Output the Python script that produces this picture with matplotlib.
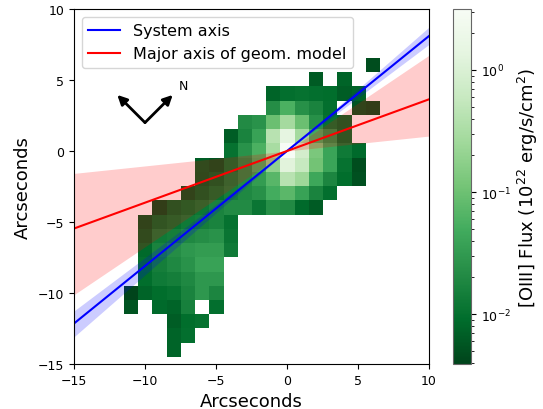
import numpy as np
import matplotlib
matplotlib.use("Agg")
import matplotlib.pyplot as plt
from matplotlib.colors import LogNorm
from matplotlib.ticker import LogLocator

# [OIII] flux map on a 1" grid, in 1e22 erg/s/cm^2.
# each row: y -> (x of first pixel, fluxes along +x), None = no data
x_cells = np.arange(-11, 7)
y_cells = np.arange(6, -15, -1)
flux_rows = {
    6: (6, [0.0048]),
    5: (2, [0.0063, None, 0.0076]),
    4: (-1, [0.0076, 0.0100, 0.0107, 0.0100, 0.0093, 0.0067, 0.0076]),
    3: (-1, [0.0223, 0.0569, 0.0238, 0.0171, 0.0100, None, 0.0055, 0.0048]),
    2: (-3, [0.0208, 0.0255, 0.0972, 0.284, 0.0972, 0.0238, 0.0107, 0.0076]),
    1: (-4, [0.0067, 0.0171, 0.0381, 0.425, 1.42, 0.284, 0.0498, 0.0238, 0.0087]),
    0: (-4, [0.0107, 0.0255, 0.0569, 0.303, 3.1, 0.830, 0.127, 0.0407, 0.0130, 0.0087]),
    -1: (-6, [0.0067, 0.0055, 0.0107, 0.0208, 0.0498, 0.190, 1.24, 0.593, 0.111,
              0.0407, 0.0107, 0.0048]),
    -2: (-6, [0.0063, 0.0076, 0.0130, 0.0208, 0.0333, 0.0695, 0.425, 0.248, 0.0436,
              0.0182, 0.0093, 0.0051]),
    -3: (-7, [0.0055, 0.0076, 0.0107, 0.0149, 0.0195, 0.0238, 0.0498, 0.0743, 0.0381,
              0.0171, 0.0100]),
    -4: (-9, [0.0048, 0.0076, 0.0093, 0.0122, 0.0171, 0.0208, 0.0208, 0.0114, 0.0238,
              0.0208, 0.0087, 0.0063]),
    -5: (-10, [0.0055, 0.0087, 0.0107, 0.0130, 0.0149, 0.0171, 0.0107]),
    -6: (-10, [0.0067, 0.0130, 0.0149, 0.0195, 0.0223, 0.0255, 0.0114]),
    -7: (-10, [0.0087, 0.0171, 0.0223, 0.0291, 0.0333, 0.0333, 0.0130]),
    -8: (-10, [0.0100, 0.0149, 0.0195, 0.0255, 0.0381, 0.0381]),
    -9: (-10, [0.0093, 0.0130, 0.0149, 0.0195, 0.0291, 0.0291]),
    -10: (-11, [0.0039, 0.0076, 0.0093, 0.0107, 0.0171, 0.0291, 0.0182]),
    -11: (-11, [0.0055, None, 0.0087, 0.0076, 0.0160, None, 0.0100]),
    -12: (-8, [0.0067, 0.0093, 0.0107]),
    -13: (-8, [0.0076, 0.0100]),
    -14: (-8, [0.0076]),
}
flux_min, flux_max = 0.0039, 3.16

# axis angles (deg, from +x) with their uncertainties
system_angle, system_err = 39.0, 2.1
model_angle, model_err = 20.0, 14.0

flux = np.full((len(y_cells), len(x_cells)), np.nan)
for i, y in enumerate(y_cells):
    if y not in flux_rows:
        continue
    x0, vals = flux_rows[y]
    for j, v in enumerate(vals):
        if v is not None:
            flux[i, x0 - x_cells[0] + j] = v

fig = plt.figure(figsize=(5.43, 4.10), dpi=100)
ax = fig.add_axes([74 / 543, 45 / 410, 355 / 543, 355 / 410])
cax = fig.add_axes([453 / 543, 45 / 410, 18 / 543, 355 / 410])

im = ax.imshow(
    np.ma.masked_invalid(flux),
    cmap="Greens_r",
    norm=LogNorm(vmin=flux_min, vmax=flux_max),
    extent=[x_cells[0] - 0.5, x_cells[-1] + 0.5, y_cells[-1] - 0.5, y_cells[0] + 0.5],
    origin="upper",
    interpolation="nearest",
    aspect="auto",
)

xs = np.linspace(-15, 10, 300)
for angle, err, color in [(system_angle, system_err, "blue"), (model_angle, model_err, "red")]:
    lo = xs * np.tan(np.radians(angle - err))
    hi = xs * np.tan(np.radians(angle + err))
    ax.fill_between(xs, lo, hi, color=color, alpha=0.2, lw=0)
ax.plot(xs, xs * np.tan(np.radians(system_angle)), color="blue", label="System axis")
ax.plot(xs, xs * np.tan(np.radians(model_angle)), color="red", label="Major axis of geom. model")

# compass
vx, vy, arm = -10.0, 2.0, 1.95
for sx in (-1, 1):
    ax.annotate("", xy=(vx + sx * arm, vy + arm), xytext=(vx, vy),
                arrowprops=dict(arrowstyle="-|>", color="k", lw=2, mutation_scale=14,
                                shrinkA=0, shrinkB=0))
ax.text(vx + arm + 0.75, vy + arm + 0.65, "N", ha="center", va="center", fontsize=9)

ax.set_xlim(-15, 10)
ax.set_ylim(-15, 10)
ax.set_xlabel("Arcseconds", fontsize=13)
ax.set_ylabel("Arcseconds", fontsize=13)
ax.tick_params(labelsize=9)
ax.legend(loc="upper left", fontsize=11.5)

cb = fig.colorbar(im, cax=cax)
cb.set_label("[OIII] Flux (10$^{22}$ erg/s/cm$^2$)", fontsize=13)
cb.ax.yaxis.set_minor_locator(LogLocator(base=10, subs=np.arange(2, 10)))
cb.ax.tick_params(labelsize=9)
cb.outline.set_edgecolor("0.4")

fig.savefig("out.png", dpi=100)
